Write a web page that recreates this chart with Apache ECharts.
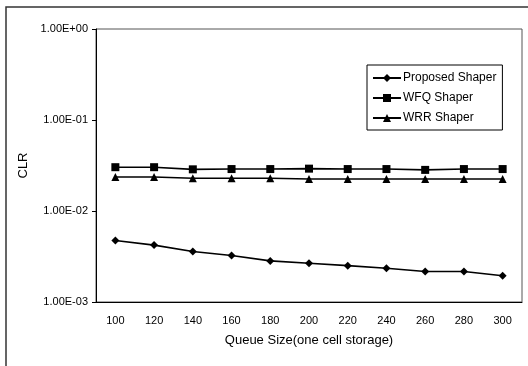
<!DOCTYPE html>
<html>
<head>
<meta charset="utf-8">
<script src="https://cdn.jsdelivr.net/npm/echarts@6/dist/echarts.min.js"></script>
<style>
  html, body { margin: 0; padding: 0; background: #fff; }
  #chart { width: 528px; height: 366px; }
</style>
</head>
<body>
<div id="chart"></div>
<script>
// queue size categories (cells)
const queueSizes = ['100', '120', '140', '160', '180', '200', '220', '240', '260', '280', '300']

// CLR values
const proposed = [0.00474, 0.00422, 0.00359, 0.00324, 0.00283, 0.00267, 0.00251, 0.00235, 0.00216, 0.00216, 0.00194]
const wfq = [0.0303, 0.0303, 0.0287, 0.0289, 0.0289, 0.0292, 0.0289, 0.0289, 0.0283, 0.0289, 0.0289]
const wrr = [0.0236, 0.0236, 0.0229, 0.0229, 0.0229, 0.0225, 0.0225, 0.0225, 0.0225, 0.0225, 0.0225]

const seriesNames = ['Proposed Shaper', 'WFQ Shaper', 'WRR Shaper']

const FONT = 'Liberation Sans'

// 1.00E-02 style labels
const sciLabel = v => {
    const e = Math.round(Math.log10(v))
    const a = Math.abs(e)
    return '1.00E' + (e < 0 ? '-' : '+') + (a < 10 ? '0' + a : a)
}

const mkSeries = (name, data, symbol, size) => ({
    name,
    type: 'line',
    data,
    symbol,
    symbolSize: size,
    color: '#000',
    lineStyle: { color: '#000', width: 1.6 },
    itemStyle: { color: '#000' },
    animation: false
})

const chart = echarts.init(document.getElementById('chart'))

chart.setOption({
    backgroundColor: '#fff',
    textStyle: { fontFamily: FONT, color: '#000' },
    grid: {
        left: 96, right: 6, top: 29, bottom: 64,
        show: true, borderColor: '#555', borderWidth: 1
    },
    graphic: [{
        // outer frame of the scanned figure
        type: 'polyline',
        shape: { points: [[6, 366], [6, 7], [528, 7]] },
        style: { stroke: '#333', lineWidth: 1.5, fill: null },
        silent: true
    }],
    legend: {
        data: seriesNames,
        orient: 'vertical',
        left: 367, top: 65,
        width: 136,
        padding: [7, 6, 6, 5],
        itemGap: 8,
        itemWidth: 28, itemHeight: 10,
        borderColor: '#000', borderWidth: 1,
        backgroundColor: '#fff',
        textStyle: { fontFamily: FONT, fontSize: 12, color: '#000', padding: [0, 0, 0, -3] }
    },
    xAxis: {
        type: 'category',
        data: queueSizes,
        boundaryGap: true,
        name: 'Queue Size(one cell storage)',
        nameLocation: 'middle',
        nameGap: 32,
        nameTextStyle: { fontFamily: FONT, fontSize: 13, color: '#000' },
        axisLine: { lineStyle: { color: '#000', width: 1 } },
        axisTick: { inside: true, length: 3, lineStyle: { color: '#000' } },
        axisLabel: { fontFamily: FONT, fontSize: 11, color: '#000', margin: 13 },
        splitLine: { show: false }
    },
    yAxis: {
        type: 'log',
        logBase: 10,
        min: 0.001,
        max: 1,
        name: 'CLR',
        nameLocation: 'middle',
        nameGap: 63,
        nameTextStyle: { fontFamily: FONT, fontSize: 13, color: '#000' },
        axisLine: { show: true, lineStyle: { color: '#000', width: 1 } },
        axisTick: { show: true, length: 4, lineStyle: { color: '#000' } },
        axisLabel: { fontFamily: FONT, fontSize: 11, color: '#000', margin: 8, formatter: sciLabel },
        splitLine: { show: false }
    },
    series: [
        mkSeries(seriesNames[0], proposed, 'diamond', 8),
        mkSeries(seriesNames[1], wfq, 'rect', 8),
        mkSeries(seriesNames[2], wrr, 'triangle', 8)
    ]
})
</script>
</body>
</html>
